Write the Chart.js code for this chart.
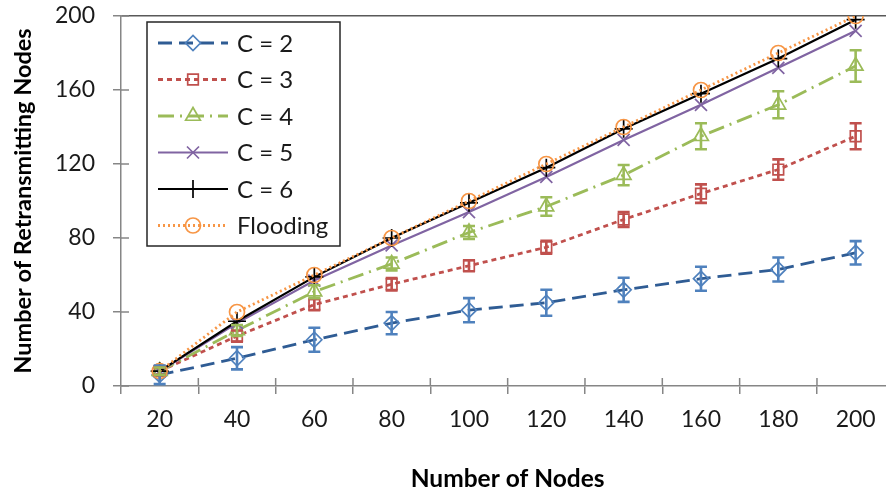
<!DOCTYPE html>
<html>
<head>
<meta charset="utf-8">
<script src="https://cdn.jsdelivr.net/npm/chart.js@4.4.1/dist/chart.umd.min.js"></script>
<style>
  html, body { margin: 0; padding: 0; background: #fff; overflow: hidden; }
  #wrap { width: 886px; height: 497px; overflow: hidden; }
  canvas { display: block; }
</style>
</head>
<body>
<div id="wrap"><canvas id="chart" width="905" height="497"></canvas></div>
<script>
// data
const nodes = ['20', '40', '60', '80', '100', '120', '140', '160', '180', '200'];
const yTicks = [0, 40, 80, 120, 160, 200];

const c2 = [6, 15, 25, 34, 41, 45, 52, 58, 63, 72];
const c2Err = [5, 6, 6.5, 6, 6.5, 7, 6.5, 6.5, 6.5, 6.3];
const c3 = [8, 27, 44, 55, 65, 75, 90, 104, 117, 135];
const c3Err = [2, 3, 3, 3.3, 3, 3.5, 4, 5, 5.5, 7];
const c4 = [8, 30, 51, 66, 83, 97, 114, 135, 152, 173];
const c4Err = [2, 3, 3.5, 3.5, 3.5, 5, 5.5, 7, 7.3, 8.5];
const c5 = [8, 34, 57, 76, 94, 113, 133, 152, 172, 192];
const c6 = [8, 35, 59, 80, 99, 118, 139, 158, 177, 198];
const flooding = [8, 40, 60, 80, 100, 120, 140, 160, 180, 200];

const FONT = 'Lato, "Open Sans", sans-serif';
const AXIS_GRAY = '#868686';

// error bars, drawn from the y scale
const errorBars = {
    id: 'errorBars',
    afterDatasetsDraw(chart) {
        const ctx = chart.ctx;
        const y = chart.scales.y;
        chart.data.datasets.forEach((ds, i) => {
            if (!ds.errors) return;
            const meta = chart.getDatasetMeta(i);
            ctx.save();
            ctx.strokeStyle = ds.errColor || ds.borderColor;
            ctx.lineWidth = 2.6;
            meta.data.forEach((pt, j) => {
                const top = y.getPixelForValue(ds.data[j] + ds.errors[j]);
                const bot = y.getPixelForValue(ds.data[j] - ds.errors[j]);
                ctx.beginPath();
                ctx.moveTo(pt.x, top); ctx.lineTo(pt.x, bot);
                ctx.moveTo(pt.x - 6, top); ctx.lineTo(pt.x + 6, top);
                ctx.moveTo(pt.x - 6, bot); ctx.lineTo(pt.x + 6, bot);
                ctx.stroke();
            });
            ctx.restore();
        });
    }
};

// excel style ticks that cross the axis
const crossTicks = {
    id: 'crossTicks',
    afterDraw(chart) {
        const ctx = chart.ctx;
        const area = chart.chartArea;
        const x = chart.scales.x, y = chart.scales.y;
        ctx.save();
        ctx.strokeStyle = AXIS_GRAY;
        ctx.lineWidth = 1.5;
        ctx.beginPath();
        y.ticks.forEach((t, i) => {
            const py = y.getPixelForTick(i);
            ctx.moveTo(area.left, py); ctx.lineTo(area.left + 8, py);
        });
        for (let i = 1; i <= nodes.length; i++) {
            const px = x.getPixelForValue(i - 0.5);
            ctx.moveTo(px, area.bottom); ctx.lineTo(px, area.bottom - 8);
        }
        ctx.stroke();
        ctx.restore();
    }
};

// boxed legend inside the plot, like the original
const boxLegend = {
    id: 'boxLegend',
    afterDraw(chart, args, opts) {
        const ctx = chart.ctx;
        ctx.save();
        ctx.fillStyle = '#fff';
        ctx.fillRect(opts.x, opts.y, opts.w, opts.h);
        ctx.strokeStyle = '#262626';
        ctx.lineWidth = 1.5;
        ctx.strokeRect(opts.x, opts.y, opts.w, opts.h);

        chart.data.datasets.forEach((ds, i) => {
            const cy = opts.y + opts.first + i * opts.step;
            const x0 = opts.x + 11, x1 = x0 + 70, mx = (x0 + x1) / 2;
            ctx.strokeStyle = ds.borderColor;
            ctx.lineWidth = ds.borderWidth;
            ctx.setLineDash(ds.borderDash || []);
            ctx.beginPath();
            ctx.moveTo(x0, cy); ctx.lineTo(x1, cy);
            ctx.stroke();
            ctx.setLineDash([]);
            ctx.strokeStyle = ds.pointBorderColor;
            ctx.fillStyle = 'rgba(0,0,0,0)';
            ctx.lineWidth = ds.pointBorderWidth;
            Chart.helpers.drawPoint(ctx, {
                pointStyle: ds.pointStyle, radius: ds.pointRadius,
                rotation: 0, borderWidth: ds.pointBorderWidth
            }, mx, cy);
            ctx.fillStyle = '#1a1a1a';
            ctx.font = '24px ' + FONT;
            ctx.textBaseline = 'middle';
            ctx.fillText(ds.label, x1 + 9, cy + 1);
        });
        ctx.restore();
    }
};

function series(label, data, color, ptColor, dash, width, style, radius, order) {
    return {
        label: label, data: data,
        borderColor: color, borderWidth: width, borderDash: dash,
        pointStyle: style, pointRadius: radius, pointHoverRadius: radius,
        pointBorderColor: ptColor, pointBackgroundColor: 'rgba(0,0,0,0)',
        pointBorderWidth: 1.7, tension: 0, fill: false, order: order
    };
}

const datasets = [
    series('C = 2', c2, '#2f5c94', '#4f81bd', [14, 7], 2.8, 'rectRot', 7.5, 5),
    series('C = 3', c3, '#c0504d', '#c0504d', [5, 4], 2.8, 'rect', 7.5, 4),
    series('C = 4', c4, '#9bbb59', '#9bbb59', [16, 6, 2, 6], 2.8, 'triangle', 8.5, 3),
    series('C = 5', c5, '#8064a2', '#8064a2', [], 2.2, 'crossRot', 8.5, 2),
    series('C = 6', c6, '#000000', '#000000', [], 2.2, 'cross', 9, 1),
    series('Flooding', flooding, '#f79646', '#f79646', [2, 3], 2.8, 'circle', 7.5, 0)
];
datasets[0].errors = c2Err; datasets[0].errColor = '#4f81bd';
datasets[1].errors = c3Err;
datasets[2].errors = c4Err;

new Chart(document.getElementById('chart'), {
    type: 'line',
    data: { labels: nodes, datasets: datasets },
    options: {
        responsive: false,
        animation: false,
        layout: { padding: { left: 9, right: 4, top: 16, bottom: 3 } },
        plugins: {
            legend: { display: false },
            tooltip: { enabled: false },
            boxLegend: { x: 147, y: 22, w: 193, h: 224, first: 21, step: 36.5 }
        },
        scales: {
            x: {
                type: 'category',
                offset: true,
                grid: { offset: true, drawOnChartArea: false, tickLength: 8, color: AXIS_GRAY, lineWidth: 1.5 },
                border: { color: AXIS_GRAY, width: 1.5 },
                ticks: { color: '#1a1a1a', font: { family: FONT, size: 23 }, padding: 12, maxRotation: 0 },
                title: { display: true, text: 'Number of Nodes', color: '#000',
                         font: { family: FONT, size: 24.5, weight: 'bold' }, padding: 0 },
                afterFit(scale) { scale.height = 108; scale.paddingLeft = 0; scale.paddingRight = 0; }
            },
            y: {
                min: 0, max: 200,
                afterBuildTicks(scale) { scale.ticks = yTicks.map(v => ({ value: v })); },
                grid: {
                    color: c => (c.tick && c.tick.value === 200) ? '#595959' : 'rgba(0,0,0,0)',
                    tickColor: AXIS_GRAY, tickLength: 8, lineWidth: 1.5
                },
                border: { color: AXIS_GRAY, width: 1.5 },
                ticks: { color: '#1a1a1a', font: { family: FONT, size: 23 }, padding: 18 },
                title: { display: true, text: 'Number of Retransmitting Nodes', color: '#000',
                         font: { family: FONT, size: 23.5, weight: 'bold' }, padding: 0 },
                afterFit(scale) { scale.width = 112; scale.paddingTop = 0; scale.paddingBottom = 0; }
            }
        }
    },
    plugins: [errorBars, crossTicks, boxLegend]
});
</script>
</body>
</html>
